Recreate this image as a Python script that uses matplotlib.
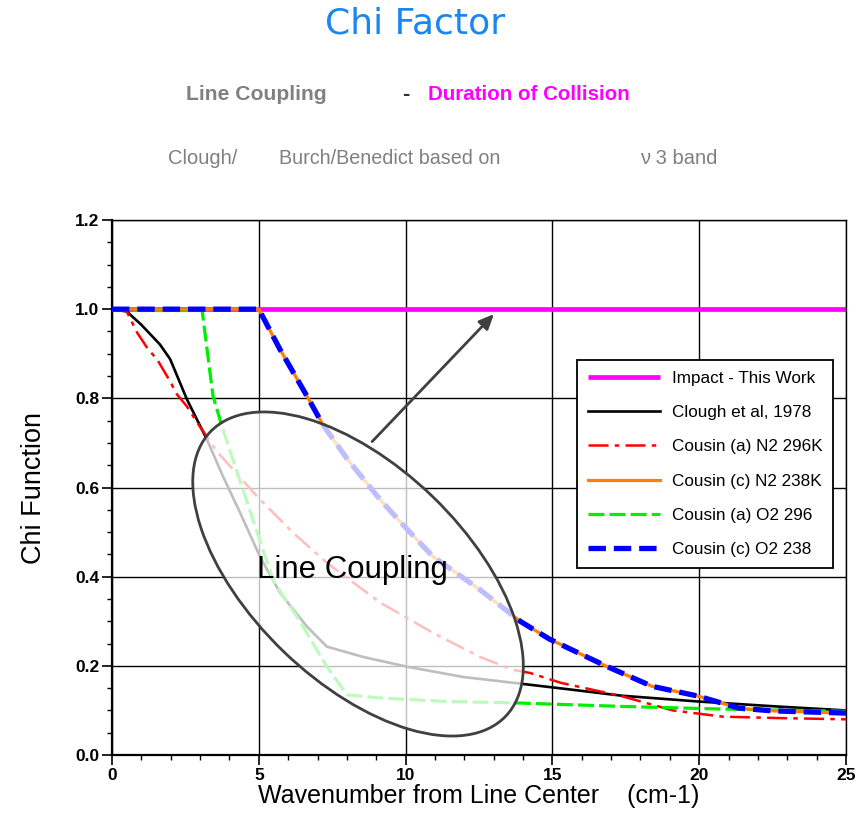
import matplotlib
matplotlib.use("Agg")
import matplotlib.pyplot as plt
from matplotlib.patches import Ellipse
from matplotlib.transforms import ScaledTranslation
from matplotlib.ticker import MultipleLocator

# ---------------- data ----------------
x_impact = [0, 25]
y_impact = [1.0, 1.0]

x_clough = [0, 0.5, 1.0, 1.63, 1.98, 2.55, 3.23, 3.78, 4.36, 5.04, 5.72, 6.64, 7.32,
            8.55, 10.05, 11.96, 13.66, 15.6, 17.36, 19.97, 22.6, 25]
y_clough = [1.0, 0.995, 0.965, 0.921, 0.888, 0.798, 0.708, 0.625, 0.544, 0.445, 0.364,
            0.288, 0.243, 0.22, 0.198, 0.175, 0.162, 0.147, 0.133, 0.12, 0.109, 0.10]

x_n2_296 = [0, 0.5, 0.85, 1.23, 1.53, 1.98, 2.21, 2.55, 2.99, 3.57, 4.94, 6.16, 7.32,
            9.13, 10.93, 12.53, 13.66, 14.24, 15.28, 17.36, 19.1, 20.8, 22.6, 25]
y_n2_296 = [1.0, 0.995, 0.948, 0.91, 0.888, 0.838, 0.809, 0.782, 0.737, 0.681, 0.58,
            0.499, 0.431, 0.342, 0.274, 0.22, 0.191, 0.184, 0.162, 0.132, 0.10, 0.086,
            0.083, 0.08]

x_n2_238 = [0, 5.0, 5.72, 6.64, 7.19, 8.0, 9.13, 10.0, 10.93, 12.53, 13.9, 14.9, 16.84,
            18.4, 19.97, 21.35, 22.5, 25]
y_n2_238 = [1.0, 1.0, 0.91, 0.805, 0.74, 0.665, 0.573, 0.51, 0.445, 0.371, 0.30, 0.26,
            0.199, 0.154, 0.132, 0.105, 0.099, 0.094]

x_o2_296 = [0, 3.07, 3.44, 3.78, 4.36, 5.5, 6.4, 7.3, 8.0, 9.13, 11.4, 13.66, 17.36,
            20.8, 25]
y_o2_296 = [0.997, 0.997, 0.805, 0.73, 0.615, 0.39, 0.30, 0.20, 0.135, 0.128, 0.12,
            0.117, 0.109, 0.103, 0.098]

x_o2_238 = [0, 5.0, 5.72, 6.64, 7.19, 8.0, 9.13, 10.0, 10.93, 12.53, 13.9, 14.9, 16.84,
            18.4, 19.97, 21.35, 22.5, 25]
y_o2_238 = [1.0, 1.0, 0.91, 0.805, 0.74, 0.665, 0.573, 0.51, 0.445, 0.371, 0.30, 0.26,
            0.199, 0.154, 0.132, 0.105, 0.099, 0.094]

labels = ["Impact - This Work", "Clough et al, 1978", "Cousin (a) N2 296K",
          "Cousin (c) N2 238K", "Cousin (a) O2 296", "Cousin (c) O2 238"]

x_ticks = [0, 5, 10, 15, 20, 25]
y_ticks = [0.0, 0.2, 0.4, 0.6, 0.8, 1.0, 1.2]

# annotation geometry
ell_center = (8.38, 0.406)
arrow_start = (8.86, 0.703)
arrow_end = (13.01, 0.989)

# ---------------- figure ----------------
plt.rcParams['font.family'] = ['Liberation Sans', 'DejaVu Sans']
fig = plt.figure(figsize=(8.66, 8.18), dpi=100)
ax = fig.add_axes([112/866, 1-755/818, 734/866, 535/818])

l0, = ax.plot(x_impact, y_impact, color='#FF00FF', lw=3.4, solid_capstyle='butt', zorder=2)
l1, = ax.plot(x_clough, y_clough, color='black', lw=1.9, zorder=3)
l2, = ax.plot(x_n2_296, y_n2_296, color='#FF0000', lw=1.8, dashes=(8, 2.5, 1.8, 2.5), zorder=3)
l4, = ax.plot(x_o2_296, y_o2_296, color='#00EE00', lw=2.3, dashes=(5, 1.6), zorder=4)
l3, = ax.plot(x_n2_238, y_n2_238, color='#FF8000', lw=2.3, zorder=4)
l5, = ax.plot(x_o2_238, y_o2_238, color='#0000FF', lw=3.8, dashes=(3.3, 1.5), zorder=5)

ax.set_xlim(0, 25)
ax.set_ylim(0, 1.2)
ax.set_xticks(x_ticks)
ax.set_yticks(y_ticks)
ax.set_yticklabels([f"{v:.1f}" for v in y_ticks])
ax.xaxis.set_minor_locator(MultipleLocator(1))
ax.yaxis.set_minor_locator(MultipleLocator(0.05))
ax.tick_params(which='major', direction='out', length=7, width=1.2, labelsize=12.5, pad=2)
ax.tick_params(which='minor', direction='out', length=3.5, width=1.0)
for lab in ax.get_xticklabels() + ax.get_yticklabels():
    lab.set_fontweight('bold')
ax.grid(True, which='major', color='black', lw=1.0, zorder=1)
ax.set_axisbelow(True)
for s in ['left', 'bottom']:
    ax.spines[s].set_linewidth(1.6)
for s in ['top', 'right']:
    ax.spines[s].set_linewidth(1.0)

ax.set_xlabel("Wavenumber from Line Center    (cm-1)", fontsize=18, labelpad=1)
ax.set_ylabel("Chi Function", fontsize=19.5, labelpad=20)

# ellipse highlighting line coupling region
trans = fig.dpi_scale_trans + ScaledTranslation(ell_center[0], ell_center[1], ax.transData)
ell = Ellipse((0, 0), width=4.10, height=2.15, angle=-44, transform=trans,
              facecolor=(1, 1, 1, 0.75), edgecolor='#404040', lw=2.0, zorder=6)
ax.add_patch(ell)
ax.text(ell_center[0] - 0.2, ell_center[1] + 0.01, "Line Coupling", fontsize=22.5,
        ha='center', va='center', color='black', zorder=7)
ax.annotate("", xy=arrow_end, xytext=arrow_start,
            arrowprops=dict(arrowstyle='-|>,head_length=0.9,head_width=0.4',
                            color='#404040', lw=2.0, shrinkA=0, shrinkB=0), zorder=7)

leg = ax.legend([l0, l1, l2, l3, l4, l5], labels, loc='upper right',
                bbox_to_anchor=((833-112)/734, (755-360)/535), borderaxespad=0,
                fontsize=12.3, handlelength=4.2, handletextpad=0.7, labelspacing=1.13,
                borderpad=0.62, fancybox=False, framealpha=1, edgecolor='black')
leg.get_frame().set_linewidth(1.3)
leg.set_zorder(8)

# titles
fig.text(415/866, 1-24/818, "Chi Factor", fontsize=26, color='#1A86F0',
         family=['DejaVu Sans'], ha='center', va='center')
narrow = ['Liberation Sans Narrow', 'Liberation Sans', 'DejaVu Sans']
fig.text(186/866, 1-95/818, "Line Coupling", fontsize=15.2, fontweight='bold',
         color='#808080', family=narrow, ha='left', va='center')
fig.text(402/866, 1-95/818, "-", fontsize=16, fontweight='bold',
         color='#333333', family=narrow, ha='left', va='center')
fig.text(428/866, 1-95/818, "Duration of Collision", fontsize=14.8, fontweight='bold',
         color='#FF00FF', family=narrow, ha='left', va='center')
fig.text(168/866, 1-158/818, "Clough/", fontsize=14.5, color='#808080',
         family=narrow, ha='left', va='center')
fig.text(279/866, 1-158/818, "Burch/Benedict based on", fontsize=14.2, color='#808080',
         family=narrow, ha='left', va='center')
fig.text(640/866, 1-158/818, "\u03bd 3 band", fontsize=14.5, color='#808080',
         family=narrow, ha='left', va='center')

fig.savefig("out.png", dpi=100)
